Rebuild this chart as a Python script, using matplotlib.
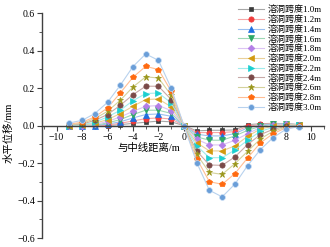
import matplotlib
matplotlib.use("Agg")
import matplotlib.pyplot as plt
from matplotlib.ticker import MultipleLocator

plt.rcParams['font.family'] = ['Liberation Serif', 'Noto Sans CJK SC']
plt.rcParams['axes.unicode_minus'] = True

x = [-9, -8, -7, -6, -5, -4, -3, -2, -1, 0, 1, 2, 3, 4, 5, 6, 7, 8, 9]

labels = ['溶洞跨度1.0m', '溶洞跨度1.2m', '溶洞跨度1.4m', '溶洞跨度1.6m', '溶洞跨度1.8m',
          '溶洞跨度2.0m', '溶洞跨度2.2m', '溶洞跨度2.4m', '溶洞跨度2.6m', '溶洞跨度2.8m',
          '溶洞跨度3.0m']

s10 = [-0.003, -0.004, -0.003, 0.000, 0.005, 0.012, 0.018, 0.024, 0.020, 0, -0.028, -0.025, -0.025, -0.023, 0.005, 0.010, 0.012, 0.010, 0.005]
s12 = [-0.004, -0.004, -0.002, 0.003, 0.012, 0.025, 0.037, 0.041, 0.035, 0, -0.037, -0.037, -0.037, -0.032, -0.004, 0.006, 0.010, 0.010, 0.005]
s14 = [-0.004, -0.003, 0.000, 0.008, 0.020, 0.041, 0.059, 0.062, 0.050, 0, -0.046, -0.055, -0.055, -0.043, -0.012, 0.002, 0.008, 0.009, 0.005]
s16 = [-0.004, -0.002, 0.002, 0.014, 0.032, 0.059, 0.082, 0.082, 0.065, 0, -0.060, -0.078, -0.078, -0.055, -0.025, -0.004, 0.006, 0.008, 0.005]
s18 = [-0.003, 0.000, 0.006, 0.022, 0.046, 0.076, 0.103, 0.107, 0.080, 0, -0.073, -0.103, -0.103, -0.078, -0.043, -0.010, 0.002, 0.006, 0.004]
s20 = [-0.002, 0.002, 0.012, 0.032, 0.064, 0.103, 0.139, 0.142, 0.100, 0, -0.091, -0.135, -0.135, -0.108, -0.057, -0.018, -0.004, 0.004, 0.004]
s22 = [0.000, 0.004, 0.018, 0.046, 0.082, 0.133, 0.171, 0.174, 0.121, 0, -0.108, -0.171, -0.171, -0.130, -0.078, -0.030, -0.010, 0.000, 0.002]
s24 = [0.003, 0.008, 0.028, 0.059, 0.108, 0.165, 0.210, 0.210, 0.139, 0, -0.135, -0.210, -0.212, -0.167, -0.101, -0.048, -0.020, -0.004, 0.000]
s26 = [0.005, 0.012, 0.037, 0.076, 0.135, 0.206, 0.260, 0.254, 0.162, 0, -0.153, -0.250, -0.260, -0.203, -0.137, -0.071, -0.030, -0.008, -0.002]
s28 = [0.008, 0.018, 0.046, 0.094, 0.174, 0.258, 0.316, 0.299, 0.183, 0, -0.176, -0.299, -0.313, -0.256, -0.172, -0.092, -0.043, -0.012, -0.004]
s30 = [0.014, 0.028, 0.064, 0.124, 0.215, 0.315, 0.382, 0.348, 0.200, 0, -0.197, -0.345, -0.380, -0.312, -0.213, -0.128, -0.064, -0.020, -0.005]

series = [s10, s12, s14, s16, s18, s20, s22, s24, s26, s28, s30]

marker_colors = ['#3a3a3a', '#f03c3c', '#1f6fe0', '#2ea866', '#b37fe6', '#d29a10',
                 '#1ccfd0', '#7a4a48', '#9a961a', '#ff6a10', '#6a9ed8']
line_colors = ['#a8a8a8', '#f6a8a8', '#9cc0f0', '#9ed8b6', '#dcc4f4', '#ead09a',
               '#a0ecec', '#c8aaa8', '#d4d29c', '#ffbe94', '#b8d2ee']
markers = ['s', 'o', '^', 'v', 'D', '<', '>', 'o', '*', 'p', 'o']
msizes = [3.5, 3.8, 3.8, 3.8, 3.4, 3.8, 3.8, 3.8, 4.6, 4.2, 4.2]

fig = plt.figure(figsize=(3.3, 2.47), dpi=100)
ax = fig.add_axes([0.127, 0.036, 0.855, 0.911])

for s, lab, mc, lc, mk, ms in zip(series, labels, marker_colors, line_colors, markers, msizes):
    ec = '#c8ddf4' if lab.endswith('3.0m') else mc
    ax.plot(x, s, color=lc, lw=0.8, marker=mk, markersize=ms,
            markerfacecolor=mc, markeredgecolor=ec, markeredgewidth=0.5, label=lab)

ax.set_xlim(-11.15, 11)
ax.set_ylim(-0.6, 0.6)
ax.spines['top'].set_visible(False)
ax.spines['right'].set_visible(False)
ax.spines['bottom'].set_position(('data', 0))
for sp in ('left', 'bottom'):
    ax.spines[sp].set_color('#404040')
    ax.spines[sp].set_linewidth(1.0)

ax.set_xticks([-10, -8, -6, -4, -2, 0, 2, 4, 6, 8, 10])
ax.xaxis.set_minor_locator(MultipleLocator(1))
ax.yaxis.set_major_locator(MultipleLocator(0.2))
ax.yaxis.set_minor_locator(MultipleLocator(0.1))
ax.tick_params(axis='both', which='major', direction='out', length=3.5, width=0.8,
               color='#404040', labelsize=7, pad=1.5)
ax.tick_params(axis='both', which='minor', direction='out', length=2, width=0.6, color='#404040')
ax.yaxis.set_major_formatter(matplotlib.ticker.FuncFormatter(
    lambda v, p: ('\u2212' if v < -1e-9 else '') + '%.1f' % abs(v)))

ax.text(0.38, 0.40, '与中线距离/m', transform=ax.transAxes, ha='center', va='center',
        fontsize=7.5)
ax.text(-0.118, 0.47, '水平位移/mm', transform=ax.transAxes, ha='center', va='center',
        rotation=90, fontsize=7.5)

leg = ax.legend(loc='upper right', bbox_to_anchor=(0.99, 1.0), bbox_transform=fig.transFigure,
                frameon=False, fontsize=6.5, handlelength=2.8, labelspacing=0.1,
                handletextpad=0.4, borderaxespad=0.2)

fig.savefig('out.png', dpi=100)
